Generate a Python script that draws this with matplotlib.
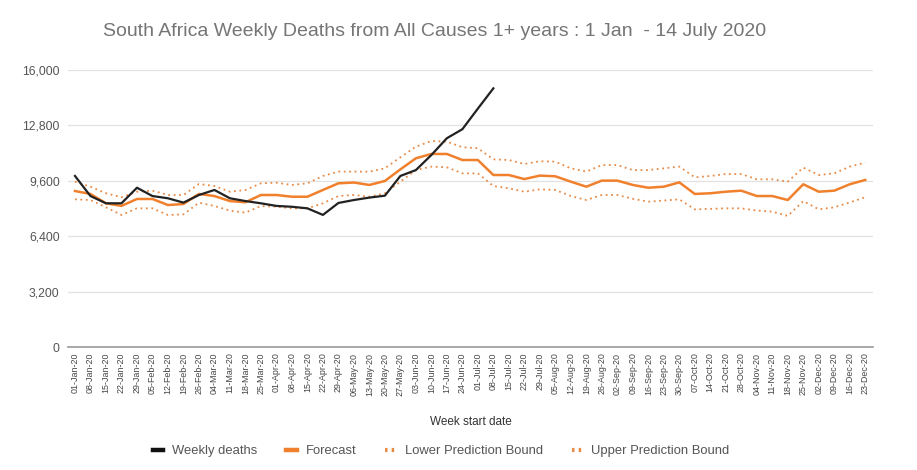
import matplotlib
matplotlib.use("Agg")
import matplotlib.pyplot as plt
from matplotlib.ticker import FuncFormatter
from matplotlib.lines import Line2D

plt.rcParams['font.family'] = ['Liberation Sans', 'DejaVu Sans']

weeks = ["01-Jan-20", "08-Jan-20", "15-Jan-20", "22-Jan-20", "29-Jan-20", "05-Feb-20",
         "12-Feb-20", "19-Feb-20", "26-Feb-20", "04-Mar-20", "11-Mar-20", "18-Mar-20",
         "25-Mar-20", "01-Apr-20", "08-Apr-20", "15-Apr-20", "22-Apr-20", "29-Apr-20",
         "06-May-20", "13-May-20", "20-May-20", "27-May-20", "03-Jun-20", "10-Jun-20",
         "17-Jun-20", "24-Jun-20", "01-Jul-20", "08-Jul-20", "15-Jul-20", "22-Jul-20",
         "29-Jul-20", "05-Aug-20", "12-Aug-20", "19-Aug-20", "26-Aug-20", "02-Sep-20",
         "09-Sep-20", "16-Sep-20", "23-Sep-20", "30-Sep-20", "07-Oct-20", "14-Oct-20",
         "21-Oct-20", "28-Oct-20", "04-Nov-20", "11-Nov-20", "18-Nov-20", "25-Nov-20",
         "02-Dec-20", "09-Dec-20", "16-Dec-20", "23-Dec-20"]

weekly_deaths = [9880, 8720, 8300, 8300, 9200, 8720, 8590, 8340, 8780, 9070, 8590, 8430,
                 8300, 8150, 8100, 8010, 7630, 8320, 8490, 8630, 8740, 9880, 10220, 11090,
                 12060, 12580, 13770, 14940]

forecast = [9010, 8840, 8300, 8150, 8550, 8550, 8200, 8260, 8840, 8720, 8430, 8360,
            8780, 8780, 8680, 8680, 9070, 9455, 9500, 9360, 9590, 10260, 10900, 11150,
            11150, 10800, 10800, 9935, 9935, 9700, 9900, 9860, 9550, 9260, 9610, 9610,
            9360, 9200, 9260, 9510, 8840, 8880, 8970, 9030, 8720, 8720, 8490, 9400,
            8970, 9030, 9400, 9650]

lower = [8530, 8490, 8070, 7625, 8010, 8010, 7625, 7660, 8335, 8145, 7875, 7760,
         8145, 8106, 8010, 8010, 8300, 8720, 8780, 8680, 8880, 9550, 10220, 10420,
         10380, 10030, 10030, 9300, 9165, 8970, 9107, 9070, 8720, 8490, 8780, 8780,
         8560, 8394, 8460, 8530, 7950, 7980, 8010, 8010, 7880, 7820, 7570, 8430,
         7950, 8070, 8350, 8650]

upper = [9550, 9260, 8880, 8650, 8970, 9030, 8780, 8780, 9415, 9300, 8970, 9070,
         9455, 9490, 9360, 9455, 9880, 10130, 10130, 10130, 10320, 10960, 11570, 11900,
         11860, 11540, 11480, 10840, 10800, 10570, 10730, 10705, 10320, 10130, 10510, 10510,
         10220, 10220, 10320, 10420, 9800, 9880, 9990, 9990, 9685, 9685, 9550, 10360,
         9935, 10030, 10420, 10650]

yticks = [0, 3200, 6400, 9600, 12800, 16000]

orange = "#f0802c"
bound_col = "#e98a45"

fig = plt.figure(figsize=(9.17, 4.70), dpi=100)
ax = fig.add_axes([68 / 917, 1 - 347 / 470, 805 / 917, 277 / 470])

x_all = list(range(len(weeks)))
ax.plot(x_all[:len(weekly_deaths)], weekly_deaths, color="#222222", lw=1.6, zorder=5)
ax.plot(x_all, forecast, color=orange, lw=1.8, zorder=4)
ax.plot(x_all, lower, color=bound_col, lw=1.3, ls=(0, (1, 2)), zorder=3)
ax.plot(x_all, upper, color=bound_col, lw=1.3, ls=(0, (1, 2)), zorder=3)

ax.set_xlim(-0.45, len(weeks) - 0.5)
ax.set_ylim(0, 16000)
ax.set_yticks(yticks)
ax.yaxis.set_major_formatter(FuncFormatter(lambda v, p: f"{int(v):,}"))
ax.grid(axis="y", color="#e2e2e2", lw=0.9)
ax.set_axisbelow(True)
for s in ["top", "right", "left"]:
    ax.spines[s].set_visible(False)
ax.spines["bottom"].set_color("#999999")
ax.spines["bottom"].set_linewidth(1.2)
ax.tick_params(axis="y", length=0, labelsize=8.8, labelcolor="#555555", pad=6)
ax.tick_params(axis="x", length=0, labelsize=6.4, labelcolor="#444444", pad=4)
ax.set_xticks(x_all)
ax.set_xticklabels(weeks, rotation=90)

ax.set_xlabel("Week start date", fontsize=8.5, color="#333333", labelpad=15)
fig.text(0.474, 0.932, "South Africa Weekly Deaths from All Causes 1+ years : 1 Jan  - 14 July 2020",
         ha="center", va="center", fontsize=14, color="#757575")

handles = [
    Line2D([], [], color="#111111", lw=3.2),
    Line2D([], [], color=orange, lw=3.2),
    Line2D([], [], color=bound_col, lw=3, ls=(0, (0.6, 1.0))),
    Line2D([], [], color=bound_col, lw=3, ls=(0, (0.6, 1.0))),
]
labels = ["Weekly deaths", "Forecast", "Lower Prediction Bound", "Upper Prediction Bound"]
leg = fig.legend(handles, labels, loc="center", bbox_to_anchor=(0.481, 0.04), ncol=4,
                 frameon=False, fontsize=9.4, handlelength=0.8, handletextpad=0.7,
                 columnspacing=2.2)
for t in leg.get_texts():
    t.set_color("#555555")

fig.savefig("out.png", dpi=100)
